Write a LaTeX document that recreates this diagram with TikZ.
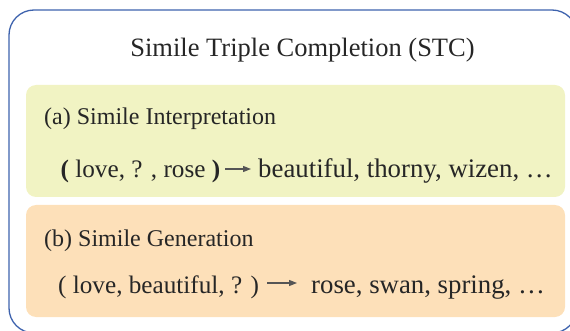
\documentclass[tikz,border=0pt]{standalone}
\usepackage{fontspec}
\setmainfont{Liberation Serif}
\usetikzlibrary{arrows.meta}
\definecolor{outerblue}{HTML}{3D62AD}
\definecolor{boxyellow}{HTML}{F1F3C3}
\definecolor{boxorange}{HTML}{FDE0B9}
\definecolor{arrowgray}{HTML}{555555}
\tikzset{
  panel/.style={rounded corners=10pt, draw=none},
  txt/.style={inner sep=0pt, anchor=base west, text=black!85},
  trip/.style={font=\fontsize{25.2}{30}\selectfont},
  big/.style={font=\fontsize{26.8}{30}\selectfont},
  lab/.style={font=\fontsize{24}{28}\selectfont},
  arr/.style={draw=arrowgray, line width=1.2pt, -{Triangle[length=8pt,width=6pt]}}
}
\begin{document}
\begin{tikzpicture}[x=1pt,y=-1pt]
\useasboundingbox (0,0) rectangle (570,331);
\clip (0,0) rectangle (570,331);
\draw[outerblue, line width=1.3pt, rounded corners=25pt] (9,10) rectangle (577,333);
\fill[panel, boxyellow] (26,85) rectangle (565,197);
\fill[panel, boxorange] (26,205) rectangle (565,317);
\node[inner sep=0pt, anchor=base, text=black!85, font=\fontsize{26.5}{30}\selectfont] (title) at (302.5,57) {Simile Triple Completion (STC)};
\node[txt, lab] (laba) at (44,125) {(a) Simile Interpretation};
\node[txt, trip] (tripa) at (60.5,178) {\textbf{(} love, ? , rose \textbf{)}};
\node[txt, big] (ansa) at (258,178) {beautiful, thorny, wizen, \dots};
\draw[arr] ([shift={(5,-9)}]tripa.base east) -- ([shift={(-7,-9)}]ansa.base west);
\node[txt, lab] (labb) at (44,246) {(b) Simile Generation};
\node[txt, trip] (tripb) at (58,293) {( love, beautiful, ? )};
\node[txt, big] (ansb) at (311,293) {rose, swan, spring, \dots};
\draw[arr] ([shift={(8,-10)}]tripb.base east) -- ([shift={(-14,-10)}]ansb.base west);
\end{tikzpicture}
\end{document}
